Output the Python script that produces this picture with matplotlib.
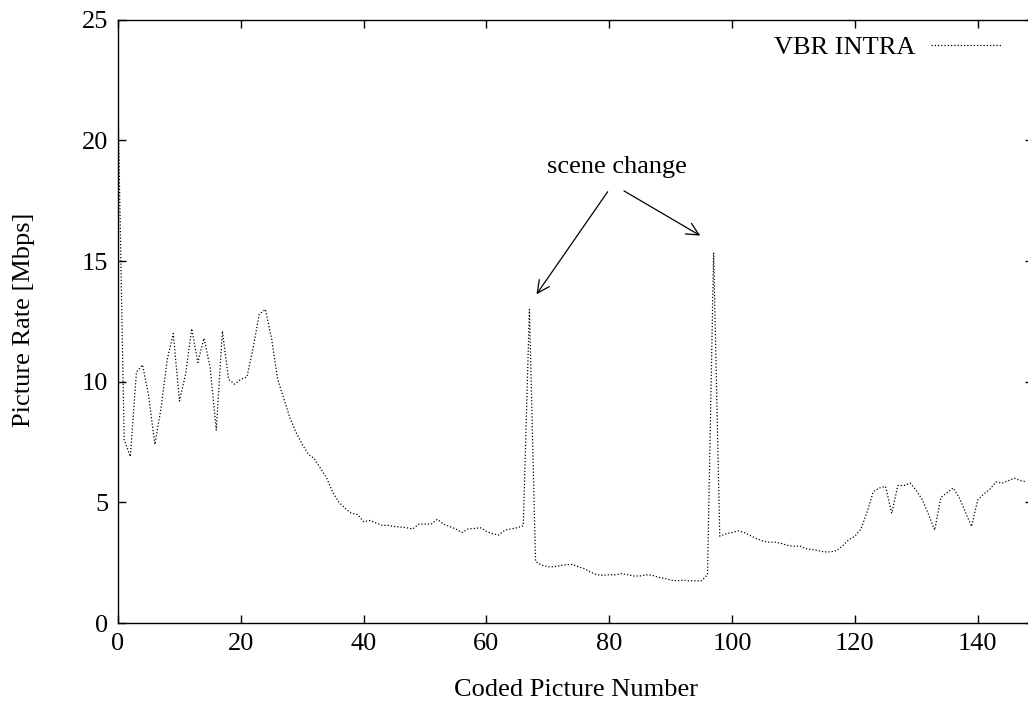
import matplotlib.pyplot as plt

# Picture rate per coded picture (Mbps).
rates = [
    21.5, 7.6, 6.9, 10.4, 10.7, 9.4, 7.4, 8.9, 10.9, 12.0,
    9.2, 10.3, 12.2, 10.8, 11.8, 10.6, 8.0, 12.1, 10.1, 9.9,
    10.1, 10.2, 11.4, 12.8, 13.0, 11.8, 10.1, 9.3, 8.5, 7.9,
    7.4, 7.0, 6.8, 6.4, 6.0, 5.4, 5.0, 4.75, 4.55, 4.5,
    4.2, 4.25, 4.15, 4.05, 4.05, 4.0, 3.98, 3.95, 3.9, 4.1,
    4.1, 4.1, 4.3, 4.1, 4.0, 3.9, 3.75, 3.9, 3.92, 3.95,
    3.8, 3.7, 3.65, 3.85, 3.9, 3.95, 4.03, 13.0, 2.55, 2.4,
    2.33, 2.33, 2.38, 2.42, 2.43, 2.33, 2.25, 2.1, 2.0, 1.98,
    2.0, 2.0, 2.05, 2.0, 1.95, 1.95, 2.0, 1.98, 1.9, 1.85,
    1.78, 1.75, 1.77, 1.75, 1.75, 1.75, 2.0, 15.35, 3.6, 3.7,
    3.75, 3.82, 3.75, 3.62, 3.5, 3.4, 3.35, 3.35, 3.3, 3.22,
    3.18, 3.2, 3.08, 3.05, 3.0, 2.95, 2.95, 3.0, 3.2, 3.45,
    3.6, 3.9, 4.6, 5.45, 5.6, 5.66, 4.55, 5.7, 5.7, 5.8,
    5.5, 5.1, 4.5, 3.85, 5.2, 5.4, 5.6, 5.2, 4.6, 4.0,
    5.1, 5.35, 5.55, 5.85, 5.8, 5.9, 6.0, 5.9, 5.85,
]
pictures = list(range(len(rates)))

x_ticks = [0, 20, 40, 60, 80, 100, 120, 140]
y_ticks = [0, 5, 10, 15, 20, 25]

# Arrow tips point at the two scene-change spikes.
scene_changes = [67, 97]

plt.rcParams['font.family'] = ['Liberation Serif', 'DejaVu Serif']
plt.rcParams['font.size'] = 19

fig = plt.figure(figsize=(10.28, 7.08), dpi=100)
ax = fig.add_axes([0.1148, 0.12, 0.89, 0.852])

ax.plot(pictures, rates, color='black', linewidth=0.9,
        linestyle=(0, (1, 1.6)), label='VBR INTRA')

ax.set_xlim(0, 149)
ax.set_ylim(0, 25)
ax.set_xticks(x_ticks)
ax.set_yticks(y_ticks)
ax.tick_params(direction='in', length=6, width=1, top=True, right=True,
               labelsize=19, pad=7)
for side in ax.spines.values():
    side.set_linewidth(1)

# Axis labels, placed by pixel position in the reference.
ax.set_xlabel('Coded Picture Number', fontsize=19, va='center')
ax.xaxis.set_label_coords((576 - 118) / (0.89 * 1028), -(690 - 623) / (0.852 * 708))
ax.set_ylabel('Picture Rate [Mbps]', fontsize=19, va='center')
ax.yaxis.set_label_coords(-(118 - 24) / (0.89 * 1028), (623 - 320) / (0.852 * 708))

# Annotation with two open arrows.
ax.text(81.2, 18.92, 'scene change', ha='center', va='center', fontsize=19)
ax.annotate('', xy=(scene_changes[0] + 0.9, 13.53), xytext=(80.0, 17.97),
            arrowprops=dict(arrowstyle='->', color='black', lw=0.9,
                            mutation_scale=22))
ax.annotate('', xy=(scene_changes[1] - 1.8, 16.0), xytext=(82.0, 17.97),
            arrowprops=dict(arrowstyle='->', color='black', lw=0.9,
                            mutation_scale=22))

ax.legend(loc='upper right', bbox_to_anchor=(0.975, 0.95),
          bbox_transform=fig.transFigure, frameon=False,
          markerfirst=False, handlelength=2.7, handletextpad=0.6,
          fontsize=19, borderaxespad=0, borderpad=0)

fig.savefig('out.png', dpi=100)
